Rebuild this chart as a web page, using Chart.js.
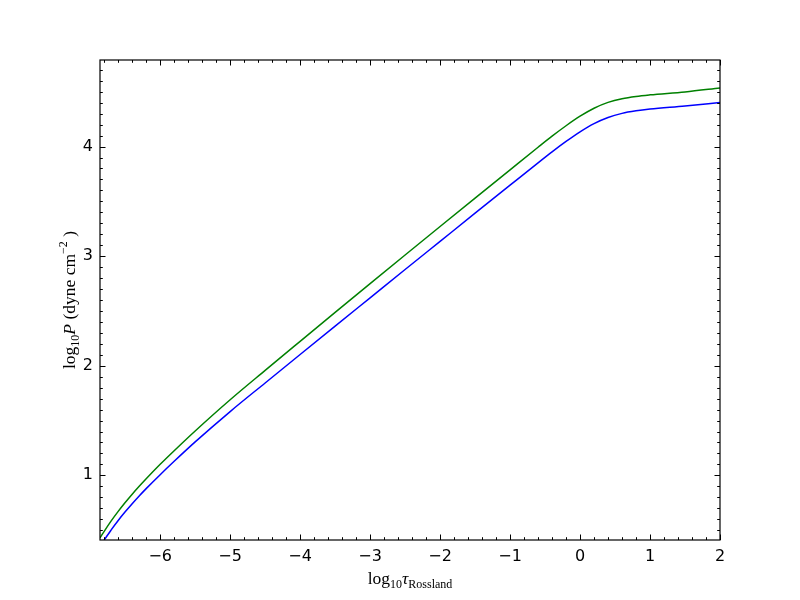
<!DOCTYPE html>
<html>
<head>
<meta charset="utf-8">
<script src="https://cdn.jsdelivr.net/npm/chart.js@4.4.0/dist/chart.umd.min.js"></script>
<style>html,body{margin:0;background:#fff}</style>
</head>
<body>
<canvas id="c" width="800" height="600"></canvas>
<script>
// log10 tau (Rossland) sample points
const tau = [-6.86, -6.8, -6.7, -6.6, -6.5, -6.4, -6.3, -6.2, -6.0, -5.8, -5.5, -5.0, -4.5, -4.0, -3.5, -3.0,
             -2.5, -2.0, -1.5, -1.0, -0.6, -0.4, -0.2, 0.0, 0.2, 0.4, 0.6, 0.8, 1.0, 1.5, 2.0];
// log10 P, blue model
const pBlue = [0.344, 0.409, 0.502, 0.588, 0.667, 0.741, 0.812, 0.879, 1.006, 1.128, 1.305, 1.582, 1.843, 2.103,
               2.362, 2.620, 2.878, 3.135, 3.392, 3.648, 3.852, 3.952, 4.047, 4.135, 4.210, 4.266, 4.303, 4.326,
               4.342, 4.370, 4.403];
// log10 P, green model
const pGreen = [0.429, 0.489, 0.584, 0.671, 0.752, 0.828, 0.900, 0.969, 1.101, 1.225, 1.405, 1.690, 1.958, 2.223,
                2.487, 2.750, 3.011, 3.271, 3.530, 3.788, 3.994, 4.095, 4.190, 4.277, 4.350, 4.403, 4.437, 4.458,
                4.472, 4.499, 4.535];
const xTicks = [-6, -5, -4, -3, -2, -1, 0, 1, 2];
const yTicks = [1, 2, 3, 4];
const xRange = [-6.86, 2];
const yRange = [0.41, 4.79];

const serif = '"Liberation Serif", "DejaVu Serif", serif';

function fmt(v) {
    return v < 0 ? '\u2212' + Math.abs(v) : String(v);
}

// draws a row of text pieces (sub/superscripts), centred on 0,0
function drawMath(ctx, parts) {
    let w = 0;
    parts.forEach(p => { ctx.font = p.font; p.w = ctx.measureText(p.t).width; w += p.w; });
    let x = -w / 2;
    ctx.textBaseline = 'alphabetic';
    ctx.textAlign = 'left';
    parts.forEach(p => { ctx.font = p.font; ctx.fillText(p.t, x, p.dy || 0); x += p.w; });
}

// frame, inward ticks on all sides and axis labels
const frame = {
    id: 'frame',
    afterDatasetsDraw(chart) {
        const {ctx, chartArea: a, scales: {x, y}} = chart;
        ctx.save();
        ctx.strokeStyle = '#000';
        ctx.lineWidth = 1;
        ctx.beginPath();
        function tx(v, len) {
            const px = Math.round(x.getPixelForValue(v)) + 0.5;
            ctx.moveTo(px, a.bottom); ctx.lineTo(px, a.bottom - len);
            ctx.moveTo(px, a.top); ctx.lineTo(px, a.top + len);
        }
        function ty(v, len) {
            const py = Math.round(y.getPixelForValue(v)) + 0.5;
            ctx.moveTo(a.left, py); ctx.lineTo(a.left + len, py);
            ctx.moveTo(a.right, py); ctx.lineTo(a.right - len, py);
        }
        xTicks.forEach(v => tx(v, 5.5));
        for (let i = -34; i <= 9; i++) { if (i % 5 !== 0) tx(i / 5, 2.8); }
        yTicks.forEach(v => ty(v, 5.5));
        for (let i = 5; i <= 47; i++) { if (i % 10 !== 0) ty(i / 10, 2.8); }
        ctx.stroke();
        ctx.lineWidth = 1.2;
        ctx.strokeRect(a.left, a.top, a.right - a.left, a.bottom - a.top);

        ctx.fillStyle = '#000';
        const big = '17.5px ' + serif, small = '12px ' + serif, ital = 'italic 17.5px ' + serif;
        ctx.save();
        ctx.translate((a.left + a.right) / 2, 584);
        drawMath(ctx, [
            {t: 'log', font: big},
            {t: '10', font: small, dy: 4},
            {t: '\u03c4', font: ital},
            {t: 'Rossland', font: small, dy: 4}
        ]);
        ctx.restore();
        ctx.save();
        ctx.translate(75, (a.top + a.bottom) / 2);
        ctx.rotate(-Math.PI / 2);
        drawMath(ctx, [
            {t: 'log', font: big},
            {t: '10', font: small, dy: 4},
            {t: 'P', font: ital},
            {t: ' (dyne cm', font: big},
            {t: '\u22122', font: small, dy: -8},
            {t: ' )', font: big}
        ]);
        ctx.restore();
        ctx.restore();
    }
};

const ctx = document.getElementById('c').getContext('2d');
new Chart(ctx, {
    type: 'line',
    data: {
        datasets: [
            {
                data: tau.map((t, i) => ({x: t, y: pBlue[i]})),
                borderColor: '#0000ff',
                borderWidth: 1.5,
                pointRadius: 0,
                cubicInterpolationMode: 'monotone'
            },
            {
                data: tau.map((t, i) => ({x: t, y: pGreen[i]})),
                borderColor: '#008000',
                borderWidth: 1.5,
                pointRadius: 0,
                cubicInterpolationMode: 'monotone'
            }
        ]
    },
    options: {
        responsive: false,
        animation: false,
        layout: {padding: {top: 60, right: 80, left: 0, bottom: 0}},
        plugins: {legend: {display: false}, tooltip: {enabled: false}},
        scales: {
            x: {
                type: 'linear',
                min: xRange[0],
                max: xRange[1],
                afterFit(s) { s.height = 60; },
                afterBuildTicks(s) { s.ticks = xTicks.map(v => ({value: v})); },
                grid: {display: false, drawTicks: false},
                border: {display: false},
                ticks: {
                    font: {family: 'DejaVu Sans', size: 16},
                    color: '#000',
                    padding: 7,
                    maxRotation: 0,
                    autoSkip: false,
                    callback: v => fmt(v)
                }
            },
            y: {
                type: 'linear',
                min: yRange[0],
                max: yRange[1],
                afterFit(s) { s.width = 100; },
                afterBuildTicks(s) { s.ticks = yTicks.map(v => ({value: v})); },
                grid: {display: false, drawTicks: false},
                border: {display: false},
                ticks: {
                    font: {family: 'DejaVu Sans', size: 16},
                    color: '#000',
                    padding: 7,
                    autoSkip: false,
                    callback: v => fmt(v)
                }
            }
        }
    },
    plugins: [frame]
});
</script>
</body>
</html>
